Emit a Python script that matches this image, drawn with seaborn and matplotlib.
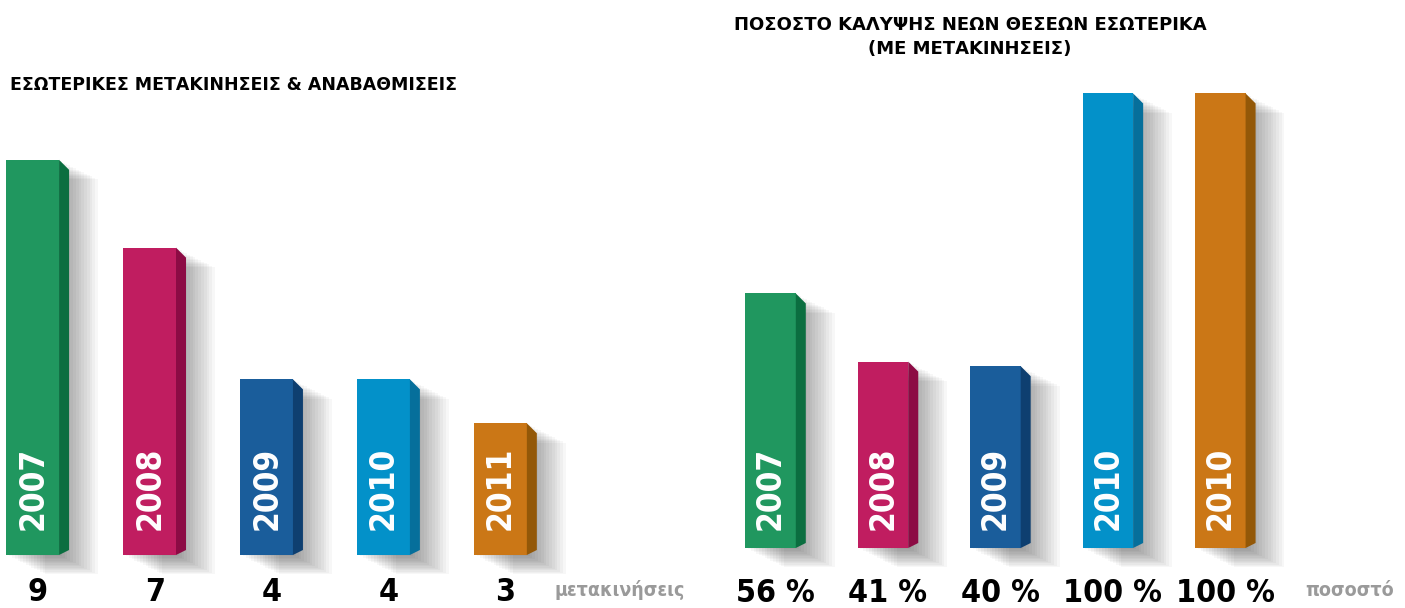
import matplotlib
matplotlib.use('Agg')
import matplotlib.pyplot as plt
import matplotlib.patheffects as pe
from matplotlib.patches import Polygon
import seaborn as sns
import pandas as pd

# --- data ---
moves_years = ['2007', '2008', '2009', '2010', '2011']
moves_values = [9, 7, 4, 4, 3]
cover_years = ['2007', '2008', '2009', '2010', '2010']
cover_values = [56, 41, 40, 100, 100]

bar_colors = ['#20975f', '#c01d60', '#1a5d9b', '#0391c9', '#cb7716']
side_colors = ['#0b6e40', '#8c0b44', '#0e3f70', '#066f9b', '#935808']

sns.set_style('white')
plt.rcParams['font.family'] = ['DejaVu Sans']
cond = dict(family='DejaVu Sans', fontstretch='condensed', fontweight='bold')

W, H = 1405, 608
fig = plt.figure(figsize=(W / 100, H / 100), dpi=100)
fig.patch.set_facecolor('white')


def panel(rect, years, values, ylim, xlim, unit, unit_x, pct, year_off, lab_off):
    ax = fig.add_axes(rect)
    df = pd.DataFrame({'pos': range(len(values)), 'val': values})
    sns.barplot(data=df, x='pos', y='val', hue='pos', palette=bar_colors,
                width=0.45, legend=False, saturation=1, ax=ax, zorder=3)
    ax.set_xlim(*xlim)
    ax.set_ylim(*ylim)
    ax.axis('off')
    # pixel -> data scale
    t0 = ax.transData.transform((0, 0))
    t1 = ax.transData.transform((1, 1))
    px_x = t1[0] - t0[0]
    px_y = t1[1] - t0[1]
    dx, dy, dyb = 10 / px_x, 10 / px_y, 5 / px_y
    shadow = [pe.SimplePatchShadow(offset=(o, -0.5 * o), alpha=0.03,
                                   shadow_rgbFace='black')
              for o in range(2, 30, 2)] + [pe.Normal()]
    for i, p in enumerate(ax.patches):
        p.set_edgecolor('none')
        p.set_clip_on(False)
        p.set_path_effects(shadow)
        x1 = p.get_x() + p.get_width()
        h = p.get_height()
        side = Polygon([(x1, h), (x1 + dx, h - dy), (x1 + dx, dyb), (x1, 0)],
                       closed=True, facecolor=side_colors[i], edgecolor='none',
                       zorder=4, clip_on=False)
        ax.add_patch(side)
        xc = p.get_x() + p.get_width() / 2
        ax.annotate(years[i], (xc, 0), xytext=(0, year_off), textcoords='offset points',
                    rotation=90, ha='center', va='bottom', color='white',
                    fontsize=24, zorder=5, **cond)
        lab = f'{values[i]} %' if pct else f'{values[i]}'
        ax.annotate(lab, (xc + dx / 2, 0), xytext=(0, lab_off),
                    textcoords='offset points', ha='center', va='center',
                    color='black', fontsize=23, annotation_clip=False, **cond)
    fig.text(unit_x / W, 1 - 590 / H, unit, ha='left', va='center',
             color='#9a9a9a', fontsize=14, **cond)
    return ax


panel([0, 53 / H, 559 / W, 483 / H], moves_years, moves_values,
      (0, 11), (-0.28, 4.5), 'μετακινήσεις', 555, False, 18, -27)
panel([739 / W, 60 / H, 560 / W, 500 / H], cover_years, cover_values,
      (0, 110), (-0.28, 4.7), 'ποσοστό', 1305, True, 13, -33)

fig.text(10 / W, 1 - 85 / H, 'ΕΣΩΤΕΡΙΚΕΣ ΜΕΤΑΚΙΝΗΣΕΙΣ & ΑΝΑΒΑΘΜΙΣΕΙΣ',
         ha='left', va='center', fontsize=12.5, fontweight='bold', color='black')
fig.text(970 / W, 1 - 37 / H, 'ΠΟΣΟΣΤΟ ΚΑΛΥΨΗΣ ΝΕΩΝ ΘΕΣΕΩΝ ΕΣΩΤΕΡΙΚΑ\n(ΜΕ ΜΕΤΑΚΙΝΗΣΕΙΣ)',
         ha='center', va='center', fontsize=13, fontweight='bold', color='black',
         linespacing=1.5)

fig.savefig('out.png', dpi=100)
